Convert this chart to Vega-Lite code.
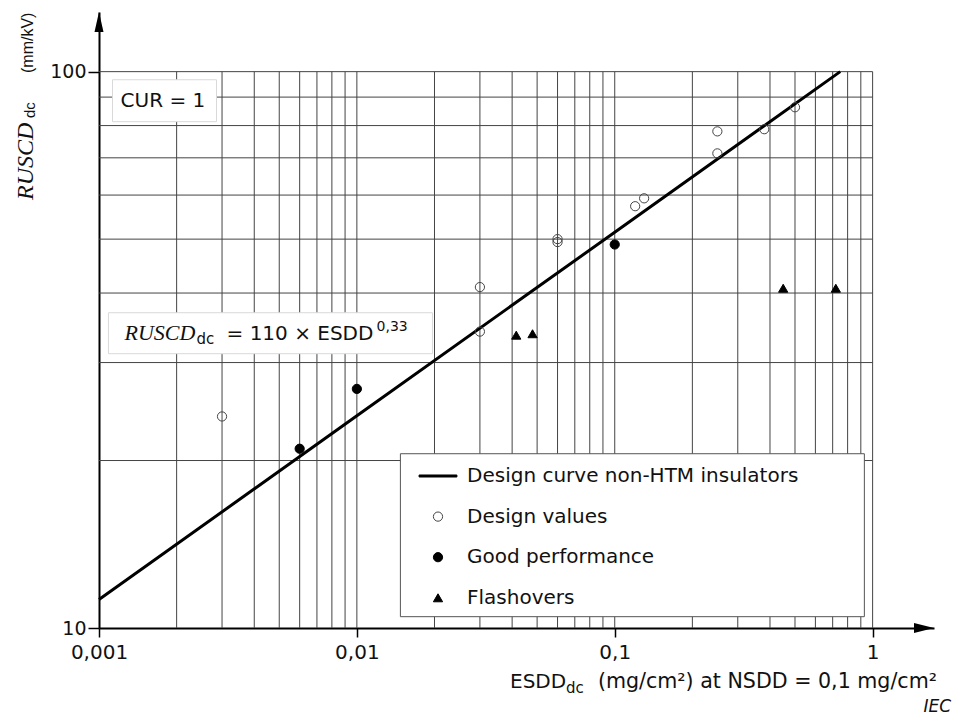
{
  "$schema": "https://vega.github.io/schema/vega-lite/v6.json",
  "width": 835,
  "height": 616,
  "autosize": {"type": "none"},
  "padding": {"left": 99, "top": 12, "right": 20, "bottom": 87},
  "background": "white",
  "config": {"view": {"stroke": null}, "font": "DejaVu Sans"},
  "encoding": {
    "x": {
      "field": "x", "type": "quantitative",
      "scale": {"type": "log", "domain": [0.001, 1.73], "nice": false},
      "axis": {
        "values": [0.001, 0.01, 0.1, 1],
        "labelExpr": "replace(toString(datum.value), '.', ',')",
        "title": null, "grid": false,
        "domainColor": "black", "domainWidth": 2,
        "tickColor": "black", "tickWidth": 1.5, "tickSize": 9,
        "labelFont": "DejaVu Sans", "labelFontSize": 20, "labelColor": "#111",
        "labelPadding": 5, "labelFlush": false, "labelOverlap": false
      }
    },
    "y": {
      "field": "y", "type": "quantitative",
      "scale": {"type": "log", "domain": [10, 128], "nice": false},
      "axis": {
        "values": [10, 100],
        "title": null, "grid": false,
        "domainColor": "black", "domainWidth": 2,
        "tickColor": "black", "tickWidth": 1.5, "tickSize": 11,
        "labelFont": "DejaVu Sans", "labelFontSize": 19, "labelColor": "#111",
        "labelPadding": 2, "labelFlush": false, "labelOverlap": false
      }
    }
  },
  "layer": [
    {
      "data": {"values": [
        {"x": 0.002, "y": 10, "y2": 100}, {"x": 0.003, "y": 10, "y2": 100}, {"x": 0.004, "y": 10, "y2": 100},
        {"x": 0.005, "y": 10, "y2": 100}, {"x": 0.006, "y": 10, "y2": 100}, {"x": 0.007, "y": 10, "y2": 100},
        {"x": 0.008, "y": 10, "y2": 100}, {"x": 0.009, "y": 10, "y2": 100}, {"x": 0.01, "y": 10, "y2": 100},
        {"x": 0.02, "y": 10, "y2": 100}, {"x": 0.03, "y": 10, "y2": 100}, {"x": 0.04, "y": 10, "y2": 100},
        {"x": 0.05, "y": 10, "y2": 100}, {"x": 0.06, "y": 10, "y2": 100}, {"x": 0.07, "y": 10, "y2": 100},
        {"x": 0.08, "y": 10, "y2": 100}, {"x": 0.09, "y": 10, "y2": 100}, {"x": 0.1, "y": 10, "y2": 100},
        {"x": 0.2, "y": 10, "y2": 100}, {"x": 0.3, "y": 10, "y2": 100}, {"x": 0.4, "y": 10, "y2": 100},
        {"x": 0.5, "y": 10, "y2": 100}, {"x": 0.6, "y": 10, "y2": 100}, {"x": 0.7, "y": 10, "y2": 100},
        {"x": 0.8, "y": 10, "y2": 100}, {"x": 0.9, "y": 10, "y2": 100}, {"x": 1, "y": 10, "y2": 100}
      ]},
      "mark": {"type": "rule", "color": "#444444", "strokeWidth": 1},
      "encoding": {"y2": {"field": "y2"}}
    },
    {
      "data": {"values": [
        {"y": 20, "x": 0.001, "x2": 1}, {"y": 30, "x": 0.001, "x2": 1}, {"y": 40, "x": 0.001, "x2": 1},
        {"y": 50, "x": 0.001, "x2": 1}, {"y": 60, "x": 0.001, "x2": 1}, {"y": 70, "x": 0.001, "x2": 1},
        {"y": 80, "x": 0.001, "x2": 1}, {"y": 90, "x": 0.001, "x2": 1}, {"y": 100, "x": 0.001, "x2": 1}
      ]},
      "mark": {"type": "rule", "color": "#444444", "strokeWidth": 1},
      "encoding": {"x2": {"field": "x2"}}
    },
    {
      "data": {"values": [
        {"box": "CUR", "x": 0.001128, "x2": 0.002855, "y": 96.7, "y2": 81.3},
        {"box": "equation", "x": 0.001088, "x2": 0.01964, "y": 36.87, "y2": 31.12}
      ]},
      "mark": {"type": "rect", "fill": "white", "stroke": "#d9d9d9", "strokeWidth": 1},
      "encoding": {"x2": {"field": "x2"}, "y2": {"field": "y2"}}
    },
    {
      "data": {"values": [
        {"box": "legend", "x": 0.01475, "x2": 0.929, "y": 20.57, "y2": 10.48}
      ]},
      "mark": {"type": "rect", "fill": "white", "stroke": "#555555", "strokeWidth": 1},
      "encoding": {"x2": {"field": "x2"}, "y2": {"field": "y2"}}
    },
    {
      "data": {"values": [
        {"x": 0.001, "y": 11.25}, {"x": 0.01, "y": 24.07}, {"x": 0.1, "y": 51.45}, {"x": 0.749, "y": 100}
      ]},
      "mark": {"type": "line", "color": "black", "strokeWidth": 3},
      "encoding": {}
    },
    {
      "data": {"values": [
        {"series": "Design values", "x": 0.003, "y": 24.0},
        {"series": "Design values", "x": 0.03, "y": 41.0},
        {"series": "Design values", "x": 0.03, "y": 34.1},
        {"series": "Design values", "x": 0.06, "y": 50.0},
        {"series": "Design values", "x": 0.06, "y": 49.4},
        {"series": "Design values", "x": 0.12, "y": 57.3},
        {"series": "Design values", "x": 0.13, "y": 59.2},
        {"series": "Design values", "x": 0.25, "y": 78.1},
        {"series": "Design values", "x": 0.25, "y": 71.3},
        {"series": "Design values", "x": 0.38, "y": 78.8},
        {"series": "Design values", "x": 0.5, "y": 86.3},
        {"series": "Good performance", "x": 0.006, "y": 21.0},
        {"series": "Good performance", "x": 0.01, "y": 26.9},
        {"series": "Good performance", "x": 0.1, "y": 48.9},
        {"series": "Flashovers", "x": 0.0415, "y": 33.6},
        {"series": "Flashovers", "x": 0.048, "y": 33.8},
        {"series": "Flashovers", "x": 0.45, "y": 40.8},
        {"series": "Flashovers", "x": 0.72, "y": 40.8}
      ]},
      "mark": {"type": "point", "size": 85, "strokeWidth": 1, "opacity": 1},
      "encoding": {
        "shape": {
          "field": "series", "type": "nominal", "title": null,
          "scale": {
            "domain": ["Design curve non-HTM insulators", "Design values", "Good performance", "Flashovers"],
            "range": ["M-4.1,-0.22L4.1,-0.22L4.1,0.22L-4.1,0.22Z", "circle", "circle", "triangle-up"]
          },
          "legend": {
            "orient": "none", "legendX": 329, "legendY": 454, "padding": 0,
            "labelFont": "DejaVu Sans", "labelFontSize": 20, "labelColor": "#111", "labelLimit": 500,
            "labelOffset": 19, "rowPadding": 20.6, "symbolSize": 85, "symbolStrokeWidth": 1
          }
        },
        "fill": {
          "field": "series", "type": "nominal", "title": null,
          "scale": {
            "domain": ["Design curve non-HTM insulators", "Design values", "Good performance", "Flashovers"],
            "range": ["black", "transparent", "black", "black"]
          },
          "legend": {
            "orient": "none", "legendX": 329, "legendY": 454, "padding": 0,
            "labelFont": "DejaVu Sans", "labelFontSize": 20, "labelColor": "#111", "labelLimit": 500,
            "labelOffset": 19, "rowPadding": 20.6, "symbolSize": 85, "symbolStrokeWidth": 1
          }
        },
        "stroke": {
          "field": "series", "type": "nominal", "title": null,
          "scale": {
            "domain": ["Design curve non-HTM insulators", "Design values", "Good performance", "Flashovers"],
            "range": ["black", "#444444", "black", "black"]
          },
          "legend": {
            "orient": "none", "legendX": 329, "legendY": 454, "padding": 0,
            "labelFont": "DejaVu Sans", "labelFontSize": 20, "labelColor": "#111", "labelLimit": 500,
            "labelOffset": 19, "rowPadding": 20.6, "symbolSize": 85, "symbolStrokeWidth": 1
          }
        }
      }
    },
    {
      "data": {"values": [{"x": 0.00177, "y": 86.5, "text": "CUR = 1"}]},
      "mark": {"type": "text", "align": "center", "baseline": "alphabetic", "font": "DejaVu Sans", "fontSize": 20, "color": "#111"},
      "encoding": {"text": {"field": "text"}}
    },
    {
      "data": {"values": [{"x": 0.001256, "y": 32.98, "text": "RUSCD"}]},
      "mark": {"type": "text", "align": "left", "baseline": "alphabetic", "font": "Liberation Serif", "fontStyle": "italic", "fontSize": 22, "color": "#111"},
      "encoding": {"text": {"field": "text"}}
    },
    {
      "data": {"values": [{"x": 0.001256, "y": 32.98, "text": "dc"}]},
      "mark": {"type": "text", "align": "left", "baseline": "alphabetic", "font": "DejaVu Sans", "fontSize": 15, "dx": 72, "dy": 4, "color": "#111"},
      "encoding": {"text": {"field": "text"}}
    },
    {
      "data": {"values": [{"x": 0.001256, "y": 32.98, "text": "= 110 × ESDD"}]},
      "mark": {"type": "text", "align": "left", "baseline": "alphabetic", "font": "DejaVu Sans", "fontSize": 20, "dx": 102, "color": "#111"},
      "encoding": {"text": {"field": "text"}}
    },
    {
      "data": {"values": [{"x": 0.001256, "y": 32.98, "text": "0,33"}]},
      "mark": {"type": "text", "align": "left", "baseline": "alphabetic", "font": "DejaVu Sans", "fontSize": 14, "dx": 252, "dy": -9, "color": "#111"},
      "encoding": {"text": {"field": "text"}}
    },
    {
      "data": {"values": [{"x": 1.73, "y": 10, "text": "(mg/cm²) at NSDD = 0,1 mg/cm²"}]},
      "mark": {"type": "text", "align": "right", "baseline": "alphabetic", "font": "DejaVu Sans", "fontSize": 20.6, "dx": 3, "dy": 60, "color": "#111"},
      "encoding": {"text": {"field": "text"}}
    },
    {
      "data": {"values": [{"x": 1.73, "y": 10, "text": "ESDD"}]},
      "mark": {"type": "text", "align": "left", "baseline": "alphabetic", "font": "DejaVu Sans", "fontSize": 20, "dx": -424, "dy": 60, "color": "#111"},
      "encoding": {"text": {"field": "text"}}
    },
    {
      "data": {"values": [{"x": 1.73, "y": 10, "text": "dc"}]},
      "mark": {"type": "text", "align": "left", "baseline": "alphabetic", "font": "DejaVu Sans", "fontSize": 15, "dx": -368, "dy": 65, "color": "#111"},
      "encoding": {"text": {"field": "text"}}
    },
    {
      "data": {"values": [{"x": 1.73, "y": 10, "text": "IEC"}]},
      "mark": {"type": "text", "align": "right", "baseline": "alphabetic", "font": "DejaVu Sans", "fontStyle": "italic", "fontSize": 17, "dx": 17, "dy": 84, "color": "#111"},
      "encoding": {"text": {"field": "text"}}
    },
    {
      "data": {"values": [{"x": 0.001, "y": 10, "text": "RUSCD"}]},
      "mark": {"type": "text", "align": "left", "baseline": "alphabetic", "angle": 270, "font": "Liberation Serif", "fontStyle": "italic", "fontSize": 24, "dx": 428, "dy": -66, "color": "#111"},
      "encoding": {"text": {"field": "text"}}
    },
    {
      "data": {"values": [{"x": 0.001, "y": 10, "text": "dc"}]},
      "mark": {"type": "text", "align": "left", "baseline": "alphabetic", "angle": 270, "font": "Liberation Sans", "fontSize": 15, "dx": 510, "dy": -64, "color": "#111"},
      "encoding": {"text": {"field": "text"}}
    },
    {
      "data": {"values": [{"x": 0.001, "y": 10, "text": "(mm/kV)"}]},
      "mark": {"type": "text", "align": "left", "baseline": "alphabetic", "angle": 270, "font": "Liberation Sans", "fontSize": 16, "dx": 555, "dy": -66, "color": "#111"},
      "encoding": {"text": {"field": "text"}}
    },
    {
      "data": {"values": [{"x": 0.001, "y": 128}]},
      "mark": {"type": "point", "shape": "M0,0L0.45,2L-0.45,2Z", "size": 400, "filled": true, "color": "black", "opacity": 1},
      "encoding": {}
    },
    {
      "data": {"values": [{"x": 1.73, "y": 10}]},
      "mark": {"type": "point", "shape": "M0,0L-2,-0.5L-2,0.5Z", "size": 400, "filled": true, "color": "black", "opacity": 1},
      "encoding": {}
    }
  ]
}
